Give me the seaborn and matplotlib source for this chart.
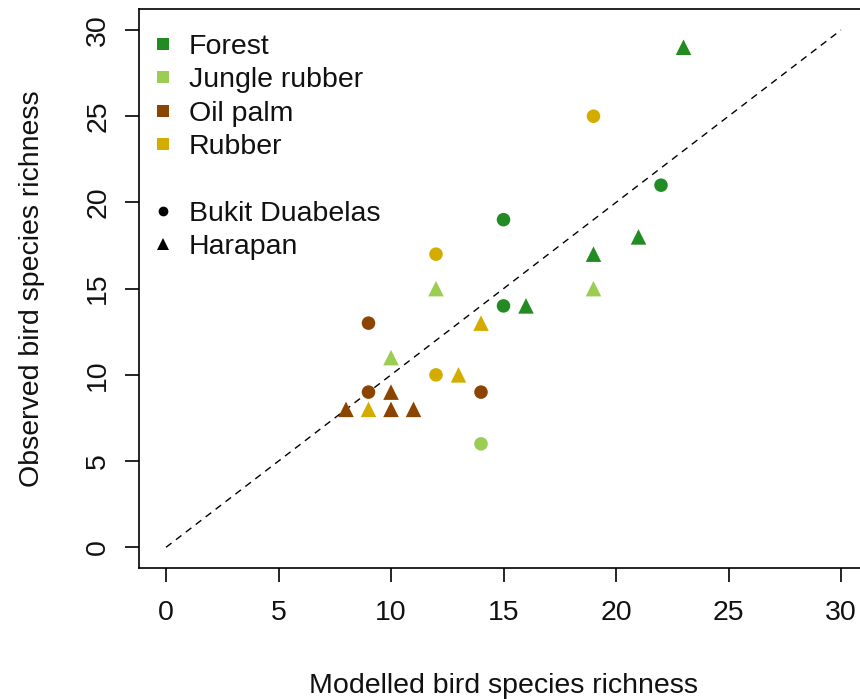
import matplotlib
matplotlib.use('Agg')
import matplotlib.pyplot as plt
import seaborn as sns
import pandas as pd
from matplotlib.lines import Line2D

# ---- data ----
land_use = (["Forest"] * 7 + ["Jungle rubber"] * 4 + ["Oil palm"] * 7 + ["Rubber"] * 6)
landscape = (["Bukit Duabelas"] * 3 + ["Harapan"] * 4 +
             ["Bukit Duabelas"] * 1 + ["Harapan"] * 3 +
             ["Bukit Duabelas"] * 3 + ["Harapan"] * 4 +
             ["Bukit Duabelas"] * 3 + ["Harapan"] * 3)
modelled = [15, 15, 22, 23, 16, 19, 21,
            14, 12, 10, 19,
            9, 9, 14, 8, 10, 10, 11,
            19, 12, 12, 14, 13, 9]
observed = [19, 14, 21, 29, 14, 17, 18,
            6, 15, 11, 15,
            13, 9, 9, 8, 9, 8, 8,
            25, 17, 10, 13, 10, 8]
land_use_levels = ["Forest", "Jungle rubber", "Oil palm", "Rubber"]
landscape_levels = ["Bukit Duabelas", "Harapan"]
colors = ["#228B22", "#9ACD52", "#8B4500", "#D4AC00"]
ticks = [0, 5, 10, 15, 20, 25, 30]

df = pd.DataFrame({"Land use": land_use, "Landscape": landscape,
                   "Modelled": modelled, "Observed": observed})
palette = dict(zip(land_use_levels, colors))

sns.set_style("white")
plt.rcParams['font.family'] = ['Liberation Sans', 'DejaVu Sans']
FS = 20.5

fig = plt.figure(figsize=(8.6, 6.99), dpi=100)
W, H = 860, 699
left, right, bottom, top = 139, 868, 568, 9.3
ax = fig.add_axes([left / W, (H - bottom) / H, (right - left) / W, (bottom - top) / H])

ax.plot([0, 30], [0, 30], color="black", lw=1.0, ls=(0, (5, 4)), zorder=1)

sizes = {"Bukit Duabelas": 95, "Harapan": 125}
mk = {"Bukit Duabelas": "o", "Harapan": "^"}
for ls_ in landscape_levels:
    sub = df[df["Landscape"] == ls_]
    sns.scatterplot(data=sub, x="Modelled", y="Observed", hue="Land use",
                    hue_order=land_use_levels, palette=palette, marker=mk[ls_],
                    s=sizes[ls_], linewidth=0, legend=False, ax=ax, zorder=3)

ax.set_xlim(-1.2, 31.2)
ax.set_ylim(-1.2, 31.2)
ax.set_xticks(ticks)
ax.set_yticks(ticks)
ax.set_xticklabels([str(t) for t in ticks], fontsize=FS)
ax.set_yticklabels([str(t) for t in ticks], fontsize=FS, rotation=90, va="center")
ax.tick_params(axis="both", direction="out", length=10, width=1.2, color="black",
               labelcolor="#111111", bottom=True, left=True)
ax.tick_params(axis="x", pad=13)
ax.tick_params(axis="y", pad=10)
for sp in ax.spines.values():
    sp.set_visible(True)
    sp.set_color("black")
    sp.set_linewidth(1.2)

ax.set_xlabel("Modelled bird species richness", fontsize=FS, color="#111111", va="center")
ax.set_ylabel("Observed bird species richness", fontsize=FS, color="#111111", va="center")
ax.xaxis.set_label_coords(0.5, (bottom - 686) / (bottom - top))
ax.yaxis.set_label_coords((32 - left) / (right - left), 0.5)

handles = [Line2D([], [], ls="", marker="s", markersize=8, color=c, markeredgewidth=0)
           for c in colors]
handles.append(Line2D([], [], ls="", marker=None))
handles.append(Line2D([], [], ls="", marker="o", markersize=7, color="black", markeredgewidth=0))
handles.append(Line2D([], [], ls="", marker="^", markersize=8, color="black", markeredgewidth=0))
labels = land_use_levels + [""] + landscape_levels
leg = ax.legend(handles, labels, loc="upper left",
                bbox_to_anchor=(151.6 / W, (H - 34) / H), bbox_transform=fig.transFigure,
                frameon=False, fontsize=FS, borderpad=0, borderaxespad=0,
                handlelength=0.8, handletextpad=0.5, labelspacing=0.26)
for t in leg.get_texts():
    t.set_color("#111111")

fig.savefig("out.png", dpi=100)
